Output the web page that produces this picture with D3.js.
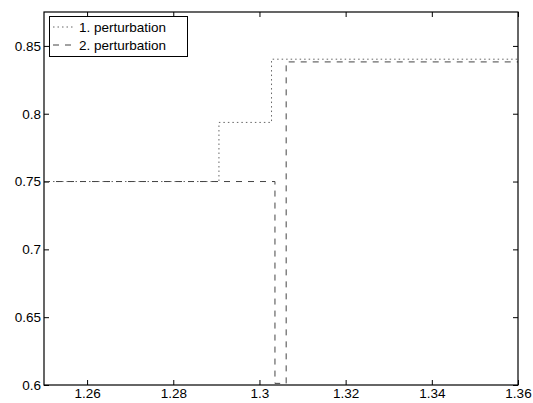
<!DOCTYPE html>
<html>
<head>
<meta charset="utf-8">
<script src="https://cdn.jsdelivr.net/npm/d3@7"></script>
<style>
  body { margin: 0; background: #fff; }
  text { font-family: "Liberation Sans", Arial, Helvetica, sans-serif; }
</style>
</head>
<body>
<svg id="chart" width="533" height="403"></svg>
<script>
// Data (step curves: x breakpoints and y values)
const pert1X = [1.25, 1.2906, 1.2906, 1.3028, 1.3028, 1.36];
const pert1Y = [0.75, 0.75, 0.7936, 0.7936, 0.8402, 0.8402];
const pert2X = [1.25, 1.3036, 1.3036, 1.3062, 1.3062, 1.36];
const pert2Y = [0.75, 0.75, 0.6012, 0.6012, 0.8382, 0.8382];
const seriesNames = ["1. perturbation", "2. perturbation"];
const xTicks = [1.26, 1.28, 1.30, 1.32, 1.34, 1.36];
const xTickLabels = ["1.26", "1.28", "1.3", "1.32", "1.34", "1.36"];
const yTicks = [0.6, 0.65, 0.7, 0.75, 0.8, 0.85];
const yTickLabels = ["0.6", "0.65", "0.7", "0.75", "0.8", "0.85"];

const pL = 44, pR = 518, pT = 12, pB = 385;
const svg = d3.select("#chart");
const x = d3.scaleLinear().domain([1.25, 1.36]).range([pL, pR]);
const y = d3.scaleLinear().domain([0.6, 0.875]).range([pB, pT]);

svg.append("defs").append("clipPath").attr("id", "clip")
  .append("rect").attr("x", pL).attr("y", pT).attr("width", pR - pL).attr("height", pB - pT);

const tickLen = 5;
const fs = "13.5px";
function styleAxis(g) {
  g.select(".domain").remove();
  g.selectAll(".tick line").attr("stroke", "#000").attr("stroke-width", 1);
  g.selectAll(".tick text").attr("fill", "#000").style("font-size", fs)
    .style("font-family", '"Liberation Sans", Arial, sans-serif');
}
const xLab = v => xTickLabels[xTicks.indexOf(v)];
const yLab = v => yTickLabels[yTicks.indexOf(v)];

svg.append("g").attr("transform", `translate(0,${pB})`)
  .call(d3.axisBottom(x).tickValues(xTicks).tickFormat(xLab).tickSizeInner(-tickLen).tickSizeOuter(0).tickPadding(3))
  .call(styleAxis);
svg.append("g").attr("transform", `translate(0,${pT})`)
  .call(d3.axisTop(x).tickValues(xTicks).tickFormat("").tickSizeInner(-tickLen).tickSizeOuter(0))
  .call(styleAxis);
svg.append("g").attr("transform", `translate(${pL},0)`)
  .call(d3.axisLeft(y).tickValues(yTicks).tickFormat(yLab).tickSizeInner(-tickLen).tickSizeOuter(0).tickPadding(3))
  .call(styleAxis);
svg.append("g").attr("transform", `translate(${pR},0)`)
  .call(d3.axisRight(y).tickValues(yTicks).tickFormat("").tickSizeInner(-tickLen).tickSizeOuter(0))
  .call(styleAxis);

const line = d3.line().x(d => x(d[0])).y(d => y(d[1]));
const plot = svg.append("g").attr("clip-path", "url(#clip)");
plot.append("path").datum(d3.zip(pert1X, pert1Y))
  .attr("d", line).attr("fill", "none").attr("stroke", "#666").attr("stroke-width", 1)
  .attr("stroke-dasharray", "1.5,3");
plot.append("path").datum(d3.zip(pert2X, pert2Y))
  .attr("d", line).attr("fill", "none").attr("stroke", "#444").attr("stroke-width", 1)
  .attr("stroke-dasharray", "6,6");

// frame
svg.append("rect").attr("x", pL).attr("y", pT).attr("width", pR - pL).attr("height", pB - pT)
  .attr("fill", "none").attr("stroke", "#000").attr("stroke-width", 1.2);

// legend
const lg = svg.append("g");
lg.append("rect").attr("x", 49.5).attr("y", 16.5).attr("width", 138).attr("height", 40)
  .attr("fill", "#fff").attr("stroke", "#000").attr("stroke-width", 1);
const styles = [{c: "#666", d: "1.5,3"}, {c: "#444", d: "6,6"}];
seriesNames.forEach((name, i) => {
  const yy = 27 + i * 18;
  lg.append("line").attr("x1", 53).attr("x2", 73).attr("y1", yy).attr("y2", yy)
    .attr("stroke", styles[i].c).attr("stroke-dasharray", styles[i].d);
  lg.append("text").attr("x", 79).attr("y", yy + 5).style("font-size", fs).attr("fill", "#000").text(name);
});
</script>
</body>
</html>
